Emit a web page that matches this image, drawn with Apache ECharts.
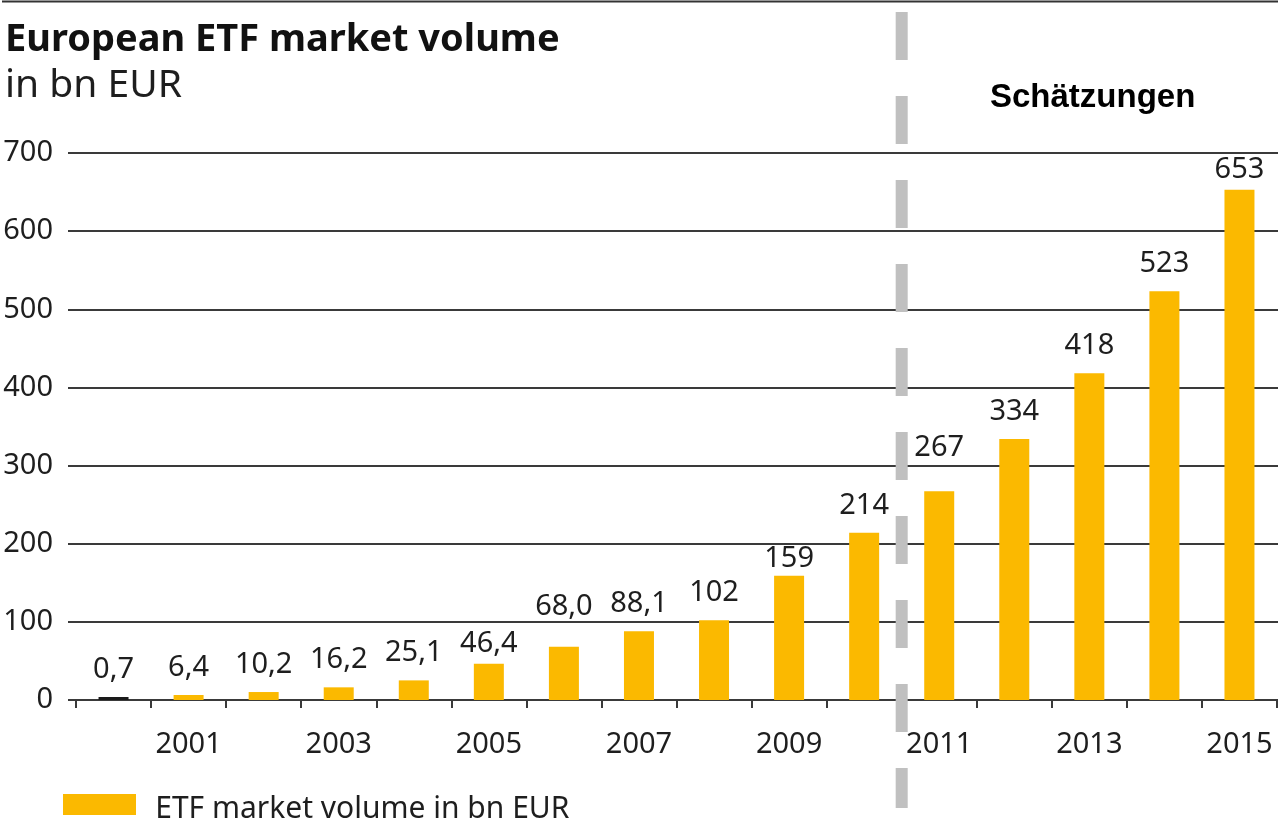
<!DOCTYPE html>
<html>
<head>
<meta charset="utf-8">
<script src="https://cdn.jsdelivr.net/npm/echarts@6/dist/echarts.min.js"></script>
<style>
  html, body { margin: 0; padding: 0; background: #fff; }
  #chart { width: 1282px; height: 828px; }
</style>
</head>
<body>
<div id="chart"></div>
<script>
// data
const years = ['2000', '2001', '2002', '2003', '2004', '2005', '2006', '2007',
  '2008', '2009', '2010', '2011', '2012', '2013', '2014', '2015'];
const volume = [0.7, 6.4, 10.2, 16.2, 25.1, 46.4, 68.0, 88.1,
  102, 159, 214, 267, 334, 418, 523, 653];
const yTicks = [0, 100, 200, 300, 400, 500, 600, 700];
const seriesName = 'ETF market volume in bn EUR';
const estimateFrom = '2011'; // Schätzungen ab hier

// einzelne Beschriftungen sitzen im Original höher/tiefer (px)
const labelShift = { '2005': 7, '2006': -13, '2009': 10, '2011': -16, '2015': 8 };

const font = 'Noto Sans';
const textColor = '#1e1e1e';
const lineColor = '#3a3a3a';

const chart = echarts.init(document.getElementById('chart'));

// deutsche Schreibweise: Komma als Dezimaltrenner
function fmt(v) {
  return v < 100 ? v.toFixed(1).replace('.', ',') : String(v);
}

function barItem(v, i) {
  const item = { value: v };
  if (i === 0) item.itemStyle = { color: '#1a1a1a' }; // erster Wert dunkel
  const s = labelShift[years[i]];
  if (s) item.label = { offset: [0, s] };
  return item;
}

const frameLine = {
  type: 'line',
  shape: { x1: 2, y1: 1.5, x2: 1278, y2: 1.5 },
  style: { stroke: '#333', lineWidth: 2 }
};

chart.setOption({
  animation: false,
  textStyle: { fontFamily: font },
  title: [
    {
      text: 'European ETF market volume',
      subtext: 'in bn EUR',
      left: 5,
      top: 18,
      padding: 0,
      itemGap: 2,
      textStyle: { fontFamily: font, fontSize: 38, fontWeight: 'bold', color: '#111', lineHeight: 44 },
      subtextStyle: { fontFamily: font, fontSize: 39, color: textColor, lineHeight: 44 }
    },
    {
      text: 'Schätzungen',
      left: 990,
      top: 78,
      padding: 0,
      textStyle: { fontFamily: 'Liberation Sans', fontSize: 33, fontWeight: 'bold', color: '#000', lineHeight: 40 }
    }
  ],
  legend: {
    data: [seriesName],
    left: 63,
    top: 794,
    padding: 0,
    icon: 'rect',
    itemWidth: 73,
    itemHeight: 21,
    // Text sitzt im Original etwas tiefer als das Symbol
    formatter: (name) => '{s| }{t|' + name + '}',
    textStyle: {
      fontFamily: font,
      fontSize: 30,
      color: textColor,
      padding: [0, 0, 0, 14],
      rich: {
        s: { fontSize: 1, lineHeight: 40 },
        t: { fontFamily: font, fontSize: 30, color: textColor, lineHeight: 30, verticalAlign: 'bottom' }
      }
    }
  },
  grid: [
    { left: 68, right: 4, top: 153, bottom: 128 }, // Gitterlinien
    { left: 76, right: 5, top: 153, bottom: 128 }  // Balken
  ],
  xAxis: [
    { gridIndex: 0, type: 'value', min: 0, max: 1, show: false },
    {
      gridIndex: 1,
      type: 'category',
      data: years,
      axisLine: { lineStyle: { color: lineColor, width: 2 } },
      axisTick: { show: true, interval: 0, length: 8, lineStyle: { color: lineColor, width: 2 } },
      axisLabel: {
        interval: (i) => i % 2 === 1, // nur ungerade Jahre
        fontFamily: font,
        fontSize: 29,
        color: textColor,
        margin: 30
      }
    }
  ],
  yAxis: [
    {
      gridIndex: 0,
      type: 'value',
      min: yTicks[0],
      max: yTicks[yTicks.length - 1],
      interval: yTicks[1] - yTicks[0],
      axisLine: { show: false },
      axisTick: { show: false },
      axisLabel: { fontFamily: font, fontSize: 29, color: textColor, margin: 15 },
      splitLine: { lineStyle: { color: lineColor, width: 2 } }
    },
    {
      gridIndex: 1,
      type: 'value',
      min: yTicks[0],
      max: yTicks[yTicks.length - 1],
      interval: yTicks[1] - yTicks[0],
      show: false,
      splitLine: { show: false }
    }
  ],
  series: [
    {
      name: seriesName,
      type: 'bar',
      xAxisIndex: 1,
      yAxisIndex: 1,
      barWidth: 30,
      barMinHeight: 3,
      itemStyle: { color: '#fbb900' },
      label: {
        show: true,
        position: 'top',
        distance: 13,
        fontFamily: font,
        fontSize: 29,
        color: textColor,
        formatter: (p) => fmt(p.value)
      },
      data: volume.map(barItem)
    }
  ],
  graphic: [frameLine]
});

// gestrichelte Trennlinie zwischen Ist-Werten und Schätzungen
const idx = years.indexOf(estimateFrom);
const xSplit = (chart.convertToPixel({ xAxisIndex: 1 }, years[idx - 1]) +
  chart.convertToPixel({ xAxisIndex: 1 }, years[idx])) / 2;

chart.setOption({
  graphic: [
    frameLine,
    {
      type: 'line',
      z: 100,
      shape: { x1: xSplit, y1: 12, x2: xSplit, y2: 808 },
      style: { stroke: '#c0c0c0', lineWidth: 12, lineDash: [48, 36] }
    }
  ]
});

window.onresize = function () {
  chart.resize();
};
</script>
</body>
</html>
